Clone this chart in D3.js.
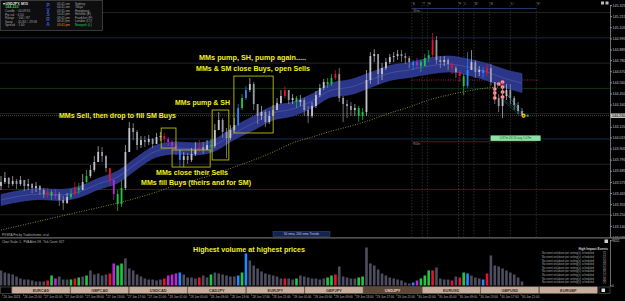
<!DOCTYPE html>
<html>
<head>
<meta charset="utf-8">
<script src="https://cdn.jsdelivr.net/npm/d3@7"></script>
<style>
html, body { margin: 0; padding: 0; background: #000; overflow: hidden; }
svg { display: block; }
text { font-family: "Liberation Sans", Arial, sans-serif; }
</style>
</head>
<body>
<svg id="chart" width="625" height="301"></svg>
<script>
var width = 625;
var height = 301;

// USDJPY bars, 45 min apart from 26 Jun 2023 16:45
var barStart = "2023-06-26 16:45";
var barEnd = "2023-06-30 21:15";
var firstOpen = 143.535;
var closes = [143.574,143.614,143.554,143.584,143.554,143.594,143.535,143.554,143.515,143.535,
  143.495,143.455,143.475,143.436,143.455,143.396,143.366,143.426,143.455,143.515,
  143.495,143.574,143.633,143.693,143.772,143.871,143.831,143.712,143.594,143.455,
  143.357,143.515,143.871,144.108,144.069,143.940,143.989,143.970,143.999,143.950,
  144.019,144.029,143.999,143.970,143.930,143.891,143.792,143.831,143.792,143.851,
  143.891,143.920,143.891,143.940,143.930,144.088,144.187,144.069,144.009,144.088,
  144.138,144.306,144.405,144.484,144.543,144.345,144.227,144.266,144.167,144.227,
  144.286,144.355,144.425,144.484,144.385,144.405,144.365,144.385,144.286,144.227,
  144.326,144.434,144.504,144.563,144.543,144.603,144.642,144.405,144.345,144.326,
  144.286,144.306,144.227,144.266,144.583,144.820,144.840,144.642,144.701,144.761,
  144.810,144.820,144.840,144.820,144.800,144.761,144.731,144.761,144.721,144.800,
  144.830,144.978,144.781,144.761,144.781,144.741,144.701,144.662,144.622,144.523,
  144.682,144.761,144.662,144.682,144.652,144.701,144.563,144.405,144.326,144.425,
  144.484,144.405,144.336,144.276,144.237];
var highs = [143.633,143.673,143.623,143.633,143.604,143.633,143.594,143.604,143.564,143.574,
  143.544,143.515,143.515,143.495,143.505,143.475,143.436,143.465,143.505,143.574,
  143.564,143.653,143.693,143.742,143.831,143.930,143.920,143.841,143.712,143.594,
  143.495,143.594,143.940,144.167,144.158,144.088,144.029,144.029,144.039,144.009,
  144.059,144.069,144.059,144.019,143.989,143.950,143.891,143.871,143.861,143.910,
  143.970,143.989,143.970,143.989,143.999,144.148,144.266,144.207,144.108,144.138,
  144.207,144.345,144.444,144.523,144.603,144.563,144.345,144.326,144.286,144.276,
  144.336,144.405,144.484,144.523,144.484,144.444,144.425,144.434,144.405,144.326,
  144.365,144.474,144.543,144.593,144.603,144.642,144.682,144.701,144.425,144.385,
  144.365,144.345,144.326,144.306,144.682,144.860,144.889,144.840,144.751,144.800,
  144.840,144.860,144.879,144.879,144.850,144.820,144.781,144.800,144.781,144.840,
  144.879,145.048,145.018,144.820,144.820,144.800,144.761,144.721,144.682,144.642,
  144.860,144.879,144.781,144.721,144.711,144.741,144.741,144.543,144.444,144.504,
  144.543,144.543,144.425,144.365,144.306];
var lows = [143.495,143.554,143.515,143.535,143.505,143.535,143.485,143.495,143.465,143.475,
  143.446,143.416,143.416,143.396,143.406,143.337,143.297,143.357,143.406,143.436,
  143.455,143.495,143.564,143.614,143.673,143.792,143.772,143.673,143.535,143.396,
  143.287,143.327,143.495,143.871,143.989,143.891,143.910,143.920,143.940,143.910,
  143.960,143.979,143.960,143.930,143.891,143.841,143.722,143.722,143.752,143.772,
  143.831,143.871,143.851,143.891,143.871,143.910,144.108,144.009,143.811,143.989,
  144.069,144.128,144.286,144.385,144.464,144.286,144.148,144.187,144.118,144.148,
  144.227,144.286,144.345,144.405,144.345,144.345,144.306,144.326,144.227,144.158,
  144.207,144.306,144.415,144.484,144.504,144.523,144.583,144.365,144.167,144.207,
  144.227,144.227,144.167,144.187,144.227,144.543,144.761,144.543,144.583,144.682,
  144.741,144.761,144.781,144.761,144.741,144.701,144.682,144.701,144.662,144.721,
  144.761,144.800,144.741,144.701,144.721,144.682,144.642,144.603,144.563,144.434,
  144.504,144.682,144.603,144.622,144.603,144.622,144.523,144.345,144.266,144.207,
  144.385,144.345,144.286,144.247,144.227];
var volumes = [3120,2700,2500,2290,1870,1460,1250,1240,1040,830,
  840,830,1040,2080,1460,1870,1250,1240,1260,1460,
  1660,1870,2080,3120,2290,2500,2080,2290,2500,4580,
  4160,4570,5620,3540,3120,2290,1870,1460,1250,1240,
  1040,1250,1460,2080,2290,2500,2700,2290,1660,1670,
  1460,1660,2080,1670,2290,2700,2500,2290,2080,1870,
  1880,2080,2700,6660,5200,4160,3540,2910,2500,2290,
  2080,1870,1460,1450,1460,1250,1460,2080,1870,1660,
  1460,1450,1250,1460,1660,2080,2290,3950,1870,1660,
  1460,1450,1660,1870,7900,4580,4160,3330,2500,2080,
  1660,1460,1250,1040,620,420,630,1040,1460,2080,
  3120,3130,3740,1460,1250,1240,1040,1870,1660,2700,
  2500,2080,1660,1460,1250,2500,6240,4160,3950,3540,
  3120,2700,2290,1660,830];
// PVSRA class per bar: . normal, g bull climax, r bear climax, b bull rising, m bear rising
var barTypes = "..........." + ".rgm...g" + "rg.g.....r" + "mgg......." + "...rmmmb.." +
  "..r..g...." + "..bgb....." + "....r..g.." + ".....ggr.." + "...gg....." +
  ".......bmg" + "ggr....r.r" + "gb...br..." + ".....";

// 50 ema cloud and 200 ema (bar index, price)
var emaIdx = [0,5,10,15,20,25,30,35,40,45,50,55,60,65,70,75,80,85,90,95,100,105,110,115,120,125,130,134];
var emaTop = [143.450,143.490,143.510,143.500,143.530,143.609,143.683,143.821,143.940,143.970,143.960,143.999,144.123,144.227,
  144.326,144.365,144.444,144.553,144.588,144.657,144.726,144.756,144.800,144.820,144.791,144.746,144.682,144.647];
var emaBot = [143.342,143.381,143.401,143.391,143.421,143.500,143.564,143.703,143.821,143.851,143.841,143.881,143.994,144.088,
  144.187,144.227,144.306,144.415,144.439,144.509,144.578,144.608,144.642,144.662,144.632,144.578,144.504,144.459];
var ema200Idx = [0,10,20,30,35,40,45,50,55,60,65,70,75,80,85,90,95,100,105,110,115,120,125,128];
var ema200 = [143.099,143.188,143.277,143.366,143.416,143.475,143.544,143.594,143.653,143.722,143.792,143.871,
  143.960,144.019,144.078,144.128,144.187,144.256,144.316,144.385,144.434,144.474,144.504,144.514];

var currentPrice = 144.230;
var priceTicks = [145.325,145.215,145.105,144.995,144.885,144.780,144.670,144.560,144.450,144.340,144.120,
  144.015,143.905,143.795,143.685,143.575,143.465,143.355,143.250,143.140,143.030];
var roundLevels = [145.25,145.00,144.75,144.50,144.25,144.00,143.75,143.50,143.25];
var timeTicks = ["2023-06-26 17:00","2023-06-26 21:00",
  "2023-06-27 01:00","2023-06-27 05:00","2023-06-27 09:00","2023-06-27 13:00","2023-06-27 17:00","2023-06-27 21:00",
  "2023-06-28 01:00","2023-06-28 05:00","2023-06-28 09:00","2023-06-28 13:00","2023-06-28 17:00","2023-06-28 21:00",
  "2023-06-29 01:00","2023-06-29 05:00","2023-06-29 09:00","2023-06-29 13:00","2023-06-29 17:00","2023-06-29 21:00",
  "2023-06-30 01:00","2023-06-30 05:00","2023-06-30 09:00","2023-06-30 13:00","2023-06-30 17:00","2023-06-30 21:00"];
var volumeTicks = [9452, 0];

// session markers for the last day
var sessionTimes = ["2023-06-30 00:00","2023-06-30 02:00","2023-06-30 03:00","2023-06-30 09:00","2023-06-30 10:00",
  "2023-06-30 12:00","2023-06-30 15:00","2023-06-30 19:00","2023-07-01 00:00"];
var sessionLetters = ["S","T","H","F","L","N°","N","L°","S°"];
var dayLevelStart = "2023-06-30 00:00";
var dayLevelEnd = "2023-07-01 00:00";
var dayLevels = [145.290, 144.583, 143.972];

// boxes drawn on the chart: [from bar, to bar, top price, bottom price]
var boxes = [[41.2,45.0,144.108,143.910],[44.0,53.8,143.891,143.722],[54.3,58.6,144.286,143.792],[59.9,70.0,144.622,144.059]];
// signal dots near the end
var signalIdx = [127,128,127,127,129,129,129,129];
var signalPrice = [144.494,144.543,144.454,144.405,144.514,144.563,144.464,144.415];
var fanLines = [[128,144.425,134,144.247],[129,144.385,133.6,144.227],[130,144.444,134.6,144.266],[131,144.36,134.2,144.256],[129.5,144.47,133,144.30]];

var notes = ["MMs Sell, then drop to fill SM Buys","MMs pump & SH","MMs pump, SH, pump again.....",
  "MMs & SM close Buys, open Sells","MMs close their Sells","MMs fill Buys (theirs and for SM)","Highest volume at highest prices"];
var symbols = ["EURCAD","GBPCAD","USDCAD","CADJPY","EURJPY","GBPJPY","USDJPY","EURUSD","GBPUSD","EURGBP"];
var activeSymbol = "USDJPY";
var infoRows = ["Candle  : 00:09:55","Pip val  : 6.50","Range   : 100 / 87","Swap    : 20.83 / -29.08","Spread  : 1.60"];
var clockTimes = ["05:41 am","04:41 am","03:41 am","10:41 pm","09:41 pm","08:41 pm","03:41 pm"];
var clockCities = ["Sydney","Tokyo","Hongkong","Helsinki (E)","Frankfurt (F)","London (L1)","Newyork (L)"];

// ---------------------------------------------------------------
var parse = d3.timeParse("%Y-%m-%d %H:%M");
var x = d3.scaleLinear().domain([0, closes.length - 1]).range([1, 522]);
var xt = d3.scaleTime().domain([parse(barStart), parse(barEnd)]).range([1, 522]);
var y = d3.scaleLinear().domain([143.030, 145.325]).range([237, 5]);
var yv = d3.scaleLinear().domain([0, 9452]).range([285.5, 240]);

var typeColor = {g: "#1cc846", r: "#e6122e", b: "#2a86ff", m: "#b42ad6"};
function barColor(i, o, c) {
    var t = barTypes[i];
    if (t && t != ".") return typeColor[t];
    return c >= o ? "#c4c4cc" : "#9a9aa4";
}

var svg = d3.select("#chart");
svg.append("rect").attr("width", width).attr("height", height).attr("fill", "#000");
svg.append("clipPath").attr("id", "clipMain")
    .append("rect").attr("x", 0).attr("y", 0).attr("width", 610).attr("height", 237);

var main = svg.append("g").attr("clip-path", "url(#clipMain)");

// round number levels
main.selectAll(".lvl").data(roundLevels).join("line")
    .attr("x1", 0).attr("x2", 610)
    .attr("y1", function(d) { return y(d); }).attr("y2", function(d) { return y(d); })
    .attr("stroke", function(d) {
        var q = Math.round(d * 4) % 4;
        return q == 0 ? "#1a2d55" : (q == 2 ? "#0f3b1d" : "#272728");
    })
    .attr("stroke-width", 0.9);

// session verticals and letters
main.selectAll(".sess").data(sessionTimes).join("line")
    .attr("x1", function(d) { return xt(parse(d)); }).attr("x2", function(d) { return xt(parse(d)); })
    .attr("y1", 2).attr("y2", 237)
    .attr("stroke", "#3e3e42").attr("stroke-width", 0.7).attr("stroke-dasharray", "1.5,1.5");
main.selectAll(".sessL").data(sessionTimes).join("text")
    .attr("x", function(d) { return xt(parse(d)) + 0.8; }).attr("y", 4.6)
    .attr("font-size", 3.2).attr("fill", "#9a9a9a")
    .text(function(d, i) { return sessionLetters[i]; });

// day levels
var dx0 = xt(parse(dayLevelStart)), dx1 = xt(parse(dayLevelEnd));
main.append("line").attr("x1", dx0).attr("x2", dx1).attr("y1", y(dayLevels[0])).attr("y2", y(dayLevels[0]))
    .attr("stroke", "#23407a").attr("stroke-width", 0.9);
main.append("text").attr("x", dx0 + 1.5).attr("y", y(dayLevels[0]) + 3).attr("font-size", 2.6).attr("fill", "#9a9a9a").text("SDm+");
main.append("line").attr("x1", dx0).attr("x2", dx1 + 2).attr("y1", y(dayLevels[1])).attr("y2", y(dayLevels[1]))
    .attr("stroke", "#c8345a").attr("stroke-width", 0.8).attr("stroke-dasharray", "1,1.4");
main.append("line").attr("x1", dx0).attr("x2", dx1).attr("y1", y(dayLevels[2])).attr("y2", y(dayLevels[2]))
    .attr("stroke", "#5e1519").attr("stroke-width", 1);
main.append("text").attr("x", dx0 + 1.5).attr("y", y(dayLevels[2]) + 3).attr("font-size", 2.6).attr("fill", "#8a8a8a").text("R60m");

// bid line
main.append("line").attr("x1", 0).attr("x2", 610).attr("y1", y(currentPrice)).attr("y2", y(currentPrice))
    .attr("stroke", "#74746a").attr("stroke-width", 0.8).attr("stroke-dasharray", "0.8,1.2");

// ema cloud
var band = emaIdx.map(function(d, i) { return {i: d, top: emaTop[i], bot: emaBot[i]}; });
main.append("path").datum(band)
    .attr("d", d3.area().curve(d3.curveMonotoneX)
        .x(function(d) { return x(d.i); })
        .y0(function(d) { return y(d.bot); })
        .y1(function(d) { return y(d.top); }))
    .attr("fill", "#2b3689").attr("stroke", "#3744a0").attr("stroke-width", 0.6);
main.append("path").datum(band)
    .attr("d", d3.line().curve(d3.curveMonotoneX)
        .x(function(d) { return x(d.i); })
        .y(function(d) { return y((d.top + d.bot) / 2); }))
    .attr("fill", "none").attr("stroke", "#7d8ad8").attr("stroke-width", 0.5).attr("opacity", 0.6);

// 200 ema
main.append("path").datum(ema200Idx.map(function(d, i) { return [d, ema200[i]]; }))
    .attr("d", d3.line().curve(d3.curveMonotoneX)
        .x(function(d) { return x(d[0]); })
        .y(function(d) { return y(d[1]); }))
    .attr("fill", "none").attr("stroke", "#a4a43c").attr("stroke-width", 0.9).attr("stroke-dasharray", "0.9,1.6");

// candles
var bars = closes.map(function(c, i) {
    var o = i ? closes[i - 1] : firstOpen;
    return {i: i, o: o, c: c, h: Math.max(highs[i], o, c), l: Math.min(lows[i], o, c), color: barColor(i, o, c)};
});
var cg = main.append("g");
cg.selectAll(".wick").data(bars).join("line")
    .attr("x1", function(d) { return x(d.i); }).attr("x2", function(d) { return x(d.i); })
    .attr("y1", function(d) { return y(d.h); }).attr("y2", function(d) { return y(d.l); })
    .attr("stroke", function(d) { return d.color; }).attr("stroke-width", 0.7);
cg.selectAll(".body").data(bars).join("rect")
    .attr("x", function(d) { return x(d.i) - 0.9; })
    .attr("width", 1.8)
    .attr("y", function(d) { return y(Math.max(d.o, d.c)); })
    .attr("height", function(d) { return Math.max(0.8, Math.abs(y(d.o) - y(d.c))); })
    .attr("fill", function(d) { return d.color; });

// yellow boxes
main.selectAll(".box").data(boxes).join("rect")
    .attr("x", function(d) { return x(d[0]); })
    .attr("y", function(d) { return y(d[2]); })
    .attr("width", function(d) { return x(d[1]) - x(d[0]); })
    .attr("height", function(d) { return y(d[3]) - y(d[2]); })
    .attr("fill", "none").attr("stroke", "#bcbc10").attr("stroke-width", 0.9);

// fan + signals at the end
main.selectAll(".fan").data(fanLines).join("line")
    .attr("x1", function(d) { return x(d[0]); }).attr("y1", function(d) { return y(d[1]); })
    .attr("x2", function(d) { return x(d[2]); }).attr("y2", function(d) { return y(d[3]); })
    .attr("stroke", "#3cc6c6").attr("stroke-width", 0.6).attr("stroke-dasharray", "0.7,0.9");
main.selectAll(".sig").data(signalIdx).join("circle")
    .attr("cx", function(d) { return x(d); }).attr("cy", function(d, i) { return y(signalPrice[i]); })
    .attr("r", 1.8).attr("fill", "#f4c6c6").attr("stroke", "#d8383c").attr("stroke-width", 0.6);
main.selectAll(".sigc").data(signalIdx).join("circle")
    .attr("cx", function(d) { return x(d); }).attr("cy", function(d, i) { return y(signalPrice[i]); })
    .attr("r", 0.6).attr("fill", "#d02020");
main.append("circle").attr("cx", x(134.4)).attr("cy", y(currentPrice)).attr("r", 2.1).attr("fill", "#f2da00");
main.append("circle").attr("cx", x(134.4)).attr("cy", y(currentPrice)).attr("r", 0.9).attr("fill", "#d01010");
main.append("rect").attr("x", x(135.2)).attr("y", y(currentPrice) - 1).attr("width", 2).attr("height", 2).attr("fill", "#22c040");

// green range label
main.append("rect").attr("x", xt(parse("2023-06-30 15:00")) + 1).attr("y", y(144.035)).attr("width", 50).attr("height", 5.5)
    .attr("fill", "#8fe0a4");
main.append("text").attr("x", xt(parse("2023-06-30 15:00")) + 26).attr("y", y(144.035) + 4)
    .attr("text-anchor", "middle").attr("font-size", 3).attr("fill", "#1c5a2c")
    .text("0.87m     24:14 avg     1.07m");

// annotations
var noteLayout = [[59, 118.3, 117], [175, 105.3, 55], [199, 60.3, 107], [196, 71.3, 114], [156, 175.3, 72], [141, 185.3, 110], [193, 252.3, 112]];
svg.selectAll(".note").data(notes).join("text")
    .attr("x", function(d, i) { return noteLayout[i][0]; })
    .attr("y", function(d, i) { return noteLayout[i][1]; })
    .attr("textLength", function(d, i) { return noteLayout[i][2]; })
    .attr("lengthAdjust", "spacingAndGlyphs")
    .attr("font-size", 6.4).attr("font-weight", "bold").attr("fill", "#f0f01e")
    .text(function(d) { return d; });

// price axis
var axisG = svg.append("g").attr("transform", "translate(610,0)")
    .call(d3.axisRight(y).tickValues(priceTicks).tickSize(2).tickPadding(0.5).tickFormat(d3.format(".3f")));
axisG.select(".domain").attr("stroke", "#8a8a8a").attr("stroke-width", 0.8);
axisG.selectAll(".tick line").attr("stroke", "#8a8a8a");
axisG.selectAll(".tick text").attr("font-size", 3.6).attr("fill", "#c4c4c4").attr("font-family", "Liberation Sans, Arial");
svg.append("rect").attr("x", 610.5).attr("y", y(currentPrice) - 2.3).attr("width", 14.5).attr("height", 4.6).attr("fill", "#bdbdbd");
svg.append("text").attr("x", 612).attr("y", y(currentPrice) + 1.3).attr("font-size", 3.6).attr("fill", "#000")
    .text(d3.format(".3f")(currentPrice));
svg.append("rect").attr("x", 601).attr("y", 1.5).attr("width", 3).attr("height", 3).attr("fill", "#b8b8b8");
svg.append("rect").attr("x", 605.5).attr("y", 1.5).attr("width", 3).attr("height", 3).attr("fill", "#b8b8b8");

// info panel
svg.append("rect").attr("x", 0.5).attr("y", 0.5).attr("width", 102).attr("height", 30)
    .attr("fill", "#0e0e10").attr("stroke", "#5c5c5c").attr("stroke-width", 0.6);
svg.append("text").attr("x", 2.5).attr("y", 4.6).attr("font-size", 3.5).attr("font-weight", "bold").attr("fill", "#e8e8e8").text("▾ USDJPY, M15");
svg.append("text").attr("x", 5).attr("y", 8.4).attr("font-size", 3.8).attr("font-weight", "bold").attr("fill", "#22d048").text("144.223");
svg.selectAll(".info").data(infoRows).join("text")
    .attr("x", 5).attr("y", function(d, i) { return 12.2 + i * 3.55; })
    .attr("font-size", 3.1).attr("fill", "#a4a4a4").attr("xml:space", "preserve")
    .text(function(d) { return d; });
svg.selectAll(".pv").data("PVSRA".split("")).join("text")
    .attr("x", 48).attr("y", function(d, i) { return 7.2 + i * 4.6; })
    .attr("text-anchor", "middle").attr("font-size", 4.8).attr("font-weight", "bold").attr("fill", "#3d5bd8")
    .text(function(d) { return d; });
svg.selectAll(".clk").data(clockTimes).join("text")
    .attr("x", 57).attr("y", function(d, i) { return 4.6 + i * 3.55; })
    .attr("font-size", 3.1).attr("fill", function(d, i) { return i == 6 ? "#e09a30" : "#a4a4a4"; })
    .text(function(d) { return d; });
svg.selectAll(".city").data(clockCities).join("text")
    .attr("x", 75).attr("y", function(d, i) { return 4.6 + i * 3.55; })
    .attr("font-size", 3.1).attr("fill", function(d, i) { return i == 6 ? "#2ccf5a" : "#a4a4a4"; })
    .text(function(d) { return d; });

// bottom of main panel
svg.append("text").attr("x", 2).attr("y", 235.6).attr("font-size", 3.1).attr("fill", "#b4b4b4").text("PVSRA Pro by Tradershome, et al.");
svg.append("rect").attr("x", 273).attr("y", 231.5).attr("width", 57).attr("height", 5)
    .attr("fill", "#15234f").attr("stroke", "#3c5292").attr("stroke-width", 0.5);
svg.append("text").attr("x", 301.5).attr("y", 235.2).attr("text-anchor", "middle").attr("font-size", 3.2).attr("fill", "#c4cce4")
    .text("50 ema, 200 ema Trends");
svg.append("line").attr("x1", 0).attr("x2", 625).attr("y1", 237.8).attr("y2", 237.8).attr("stroke", "#6a6a6a").attr("stroke-width", 1.2);

// volume panel
svg.append("text").attr("x", 2).attr("y", 242.8).attr("font-size", 3).attr("fill", "#b8b8b8").attr("xml:space", "preserve")
    .text("Chart Scale: 1,  PVA Alert Off,  Tick Count: 927");
svg.selectAll(".vol").data(bars).join("rect")
    .attr("x", function(d) { return x(d.i) - 1.3; })
    .attr("width", 2.6)
    .attr("y", function(d) { return yv(volumes[d.i]); })
    .attr("height", function(d) { return yv(0) - yv(volumes[d.i]); })
    .attr("fill", function(d) { var t = barTypes[d.i]; return t && t != "." ? typeColor[t] : "#4d4d5f"; });
var vAxis = svg.append("g").attr("transform", "translate(610,0)")
    .call(d3.axisRight(yv).tickValues(volumeTicks).tickSize(1.5).tickPadding(0.5).tickFormat(d3.format("d")));
vAxis.select(".domain").attr("stroke", "#8a8a8a").attr("stroke-width", 0.8);
vAxis.selectAll(".tick line").attr("stroke", "#8a8a8a");
vAxis.selectAll(".tick text").attr("font-size", 3.3).attr("fill", "#c4c4c4").attr("font-family", "Liberation Sans, Arial");
svg.append("rect").attr("x", 604.5).attr("y", 239.5).attr("width", 3.5).attr("height", 3.5).attr("fill", "#cfcfcf");

// events list
svg.append("text").attr("x", 608).attr("y", 250.2).attr("text-anchor", "end").attr("font-size", 3.2).attr("font-weight", "bold")
    .attr("fill", "#d4d4d4").text("High Impact Events");
svg.selectAll(".ev").data(d3.range(9)).join("text")
    .attr("x", 542).attr("y", function(d) { return 254.3 + d * 3.6; })
    .attr("font-size", 2.7).attr("fill", "#a8a8a8")
    .text("No event on/above per setting(s) scheduled");
svg.selectAll(".evn").data(d3.range(9)).join("text")
    .attr("x", 603).attr("y", function(d) { return 254.3 + d * 3.6; })
    .attr("font-size", 2.7).attr("fill", "#a8a8a8")
    .text(function(d) { return "[" + (d + 1) + "]"; });

// symbol buttons
svg.append("rect").attr("x", 0.5).attr("y", 287).attr("width", 11).attr("height", 6.5).attr("fill", "#000").attr("stroke", "#707070").attr("stroke-width", 0.5);
var btn = svg.selectAll(".btn").data(symbols).join("g")
    .attr("transform", function(d, i) { return "translate(" + (12 + i * 58.6) + ",286.8)"; });
btn.append("rect").attr("width", 58).attr("height", 6.6)
    .attr("fill", function(d) { return d == activeSymbol ? "#5e4838" : "#c7ae9c"; })
    .attr("stroke", "#8a7060").attr("stroke-width", 0.5);
btn.append("text").attr("x", 29).attr("y", 4.8).attr("text-anchor", "middle")
    .attr("font-size", 3.9).attr("font-weight", "bold")
    .attr("fill", function(d) { return d == activeSymbol ? "#ead9c8" : "#3a2a1e"; })
    .text(function(d) { return d; });
svg.append("rect").attr("x", 599).attr("y", 287).attr("width", 11).attr("height", 6.5).attr("fill", "#000").attr("stroke", "#707070").attr("stroke-width", 0.5);
svg.append("rect").attr("x", 601.5).attr("y", 288.5).attr("width", 3.5).attr("height", 3.5).attr("fill", "#e0e0e0");

// time axis
var fmt = d3.timeFormat("%d %b %H:%M");
var tAxis = svg.append("g").attr("transform", "translate(0,294.5)")
    .call(d3.axisBottom(xt).tickValues(timeTicks.map(parse)).tickSize(1.2).tickPadding(0.6)
        .tickFormat(function(d, i) { return i == 0 ? "26 Jun 2023" : fmt(d); }));
tAxis.select(".domain").remove();
tAxis.selectAll(".tick line").attr("stroke", "#707070");
tAxis.selectAll(".tick text").attr("font-size", 3).attr("fill", "#bcbcbc").attr("text-anchor", "start")
    .attr("dx", 0.8).attr("font-family", "Liberation Sans, Arial");
</script>
</body>
</html>
